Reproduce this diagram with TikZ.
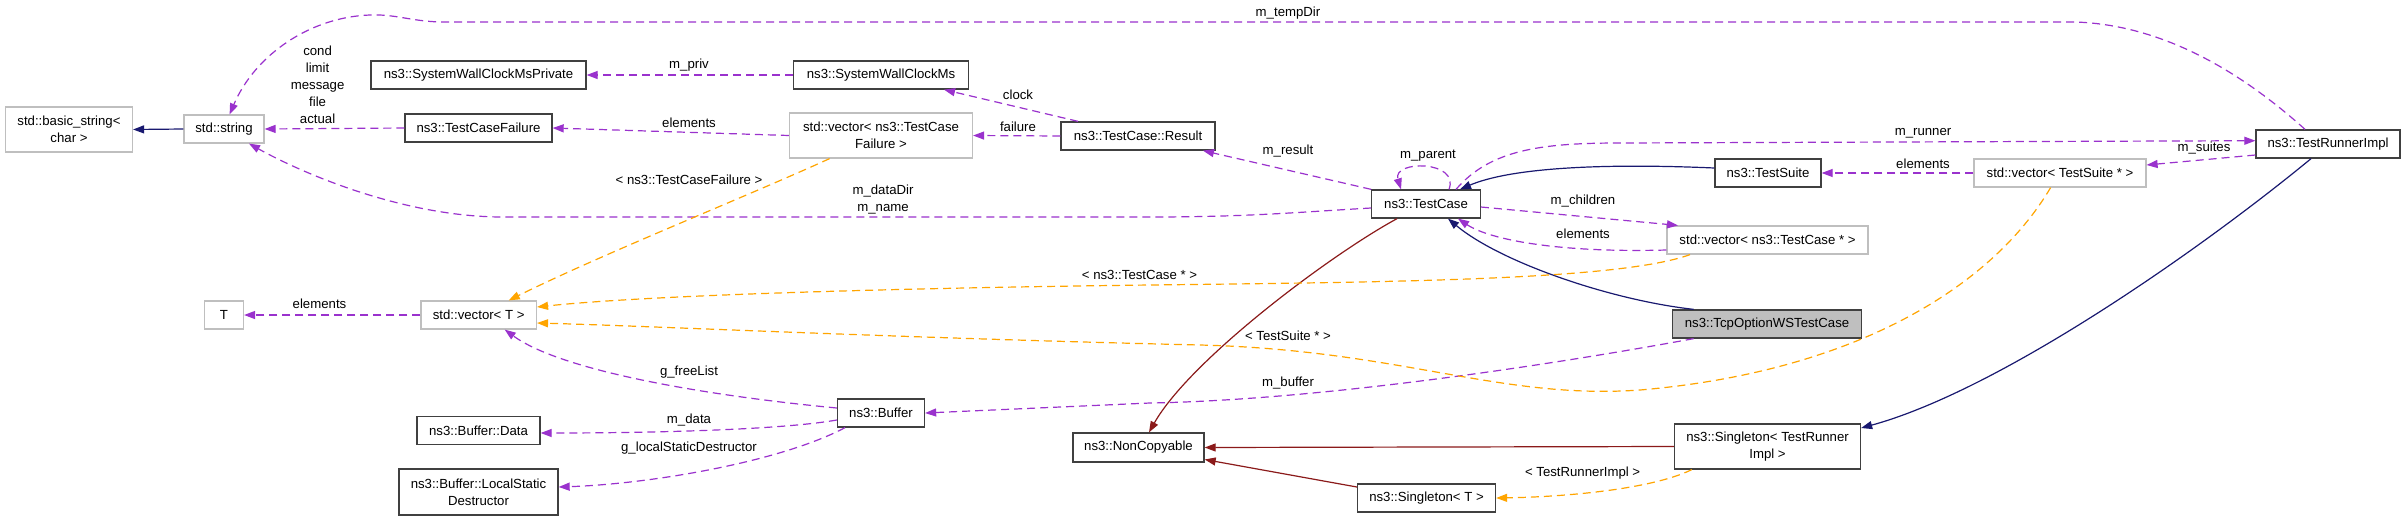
\documentclass[tikz,border=0pt]{standalone}
\usepackage{fontspec}
\setmainfont{Liberation Sans}
\usetikzlibrary{arrows.meta}
\definecolor{edgepurple}{HTML}{9A32CD}
\definecolor{edgeorange}{HTML}{FFA500}
\definecolor{edgenavy}{HTML}{191970}
\definecolor{edgered}{HTML}{8B1A1A}
\definecolor{boxgray}{HTML}{BFBFBF}
\definecolor{boxline}{HTML}{404040}
\tikzset{
  txt/.style={font=\fontsize{13.2}{17}\selectfont},
  cls/.style={txt, draw=boxline, line width=1.3pt, inner sep=0pt, align=center},
  ext/.style={cls, draw=boxgray, line width=1.2pt},
  sz/.style 2 args={minimum width=#1, minimum height=#2},
  lbl/.style={txt, inner sep=0pt, align=center},
  tipstyle/.style={-{Triangle[length=11pt,width=8pt]}},
  usage/.style={draw=edgepurple, line width=1.2pt, dash pattern=on 8pt off 5pt, tipstyle},
  tmpl/.style={draw=edgeorange, line width=1.2pt, dash pattern=on 8pt off 5pt, tipstyle},
  inh/.style={draw=edgenavy, line width=1.2pt, tipstyle},
  realize/.style={draw=edgered, line width=1.2pt, tipstyle}
}
\begin{document}
\begin{tikzpicture}[x=1pt,y=-1pt]
\fill[white] (0,0) rectangle (2405,520);
\useasboundingbox (0,0) rectangle (2405,520);

% nodes
\node[ext, sz={127}{45}] (bstr) at (69,129.5) {std::basic\_string<\\char >};
\node[ext, sz={80}{28}] (str) at (224,129) {std::string};
\node[cls, sz={215}{28}] (swcmp) at (478.5,75) {ns3::SystemWallClockMsPrivate};
\node[cls, sz={147}{28}] (tcf) at (478.5,128) {ns3::TestCaseFailure};
\node[cls, sz={175.5}{28}] (swcm) at (881,75) {ns3::SystemWallClockMs};
\node[ext, sz={183}{45}] (vtcf) at (881,135.5) {std::vector< ns3::TestCase\\Failure >};
\node[cls, sz={154}{28}] (res) at (1138,136) {ns3::TestCase::Result};
\node[cls, sz={108.5}{28}] (tc) at (1426,204) {ns3::TestCase};
\node[cls, sz={106}{28}] (ts) at (1768,173) {ns3::TestSuite};
\node[ext, sz={172}{28}] (vts) at (2060,173) {std::vector< TestSuite * >};
\node[cls, sz={144}{28}] (tri) at (2328,144) {ns3::TestRunnerImpl};
\node[ext, sz={201}{28}] (vtc) at (1767.5,240) {std::vector< ns3::TestCase * >};
\node[ext, sz={39}{28}] (T) at (224,315) {T};
\node[ext, sz={115.5}{28}] (vt) at (478.7,315) {std::vector< T >};
\node[cls, sz={123}{28}] (bdata) at (478.5,430.5) {ns3::Buffer::Data};
\node[cls, sz={159}{46}] (blsd) at (478.5,492) {ns3::Buffer::LocalStatic\\Destructor};
\node[cls, sz={87}{28}] (buf) at (881,413) {ns3::Buffer};
\node[cls, sz={131}{29}] (nc) at (1138.5,447.5) {ns3::NonCopyable};
\node[cls, fill=boxgray, sz={189.5}{28}] (tcp) at (1767,324) {ns3::TcpOptionWSTestCase};
\node[cls, sz={186}{45}] (stri) at (1767.5,446.5) {ns3::Singleton< TestRunner\\Impl >};
\node[cls, sz={138}{28}] (st) at (1426.5,498) {ns3::Singleton< T >};

% inheritance (navy)
\draw[inh] (str.west) -- (bstr.east);
\draw[inh] ([yshift=5]ts.west) .. controls (1600,163) and (1510,168) .. ([xshift=34]tc.north);
\draw[inh] ([xshift=-73.4]tcp.north) .. controls (1610,300) and (1500,262) .. ([xshift=22]tc.south);
\draw[inh] ([xshift=-17]tri.south) .. controls (2200,250) and (2000,390) .. ([yshift=18.5]stri.east);

% inheritance (dark red)
\draw[realize] ([xshift=-29]tc.south) .. controls (1330,255) and (1190,360) .. ([xshift=10.5]nc.north);
\draw[realize] (stri.west) -- (nc.east);
\draw[realize] ([yshift=11]st.west) -- ([yshift=-12]nc.east);

% usage (purple)
\draw[usage] (tcf.west) -- (str.east);
\node[lbl] (lcond) at (317.6,85) {cond\\limit\\message\\file\\actual};
\draw[usage] (swcm.west) -- (swcmp.east);
\node[lbl] (lpriv) at (689,65) {m\_priv};
\draw[usage] (vtcf.west) -- (tcf.east);
\node[lbl] (lel1) at (689,123) {elements};
\draw[usage] ([xshift=-60]res.north) -- ([xshift=63]swcm.south);
\node[lbl] (lclock) at (1018,95) {clock};
\draw[usage] (res.west) -- (vtcf.east);
\node[lbl] (lfail) at (1018,127) {failure};
\draw[usage] (tc.north west) -- ([xshift=65]res.south);
\node[lbl] (lres) at (1288,151) {m\_result};
\draw[usage] ([xshift=23]tc.north) .. controls (1460,160) and (1392,160) .. ([xshift=-25]tc.north);
\node[lbl] (lpar) at (1428,156) {m\_parent};
\draw[usage] ([yshift=-3]tc.east) -- ([xshift=-89.5]vtc.north);
\node[lbl] (lchild) at (1583,201) {m\_children};
\draw[usage] ([yshift=-10]vtc.west) .. controls (1560,253) and (1490,240) .. ([xshift=32]tc.south);
\node[lbl] (lel2) at (1583,234) {elements};
\draw[usage] ([xshift=30]tc.north) .. controls (1490,150) and (1540,143) .. (1620,143) -- ([yshift=3.3]tri.west);
\node[lbl] (lrun) at (1923,133) {m\_runner};
\draw[usage] ([yshift=-11]tri.west) -- ([yshift=8]vts.east);
\node[lbl] (lsuit) at (2204,148) {m\_suites};
\draw[usage] (vts.west) -- (ts.east);
\node[lbl] (lel3) at (1923,164) {elements};
\draw[usage] ([xshift=-23]tri.north) .. controls (2250,80) and (2170,25) .. (2075,22) -- (440,22) .. controls (410,21) and (395,14) .. (370,15) .. controls (310,17) and (255,55) .. ([xshift=5.6]str.north);
\node[lbl] (ltemp) at (1288,13) {m\_tempDir};
\draw[usage] ([yshift=-4]tc.west) .. controls (1300,212) and (1250,217) .. (1150,217) -- (500,217) .. controls (400,216) and (300,172) .. ([xshift=25]str.south);
\node[lbl] (ldata) at (883,199.5) {m\_dataDir\\m\_name};
\draw[usage] (vt.west) -- (T.east);
\node[lbl] (lel4) at (319.5,304) {elements};
\draw[usage] ([yshift=5]buf.west) .. controls (700,395) and (560,370) .. ([xshift=26]vt.south);
\node[lbl] (lfree) at (689,372) {g\_freeList};
\draw[usage] ([yshift=-7]buf.west) .. controls (780,430) and (650,433) .. ([yshift=-2.5]bdata.east);
\node[lbl] (lmdata) at (689,420) {m\_data};
\draw[usage] ([xshift=-36]buf.south) .. controls (780,462) and (650,484) .. ([yshift=5]blsd.east);
\node[lbl] (llsd) at (689,448) {g\_localStaticDestructor};
\draw[usage] ([xshift=-73.4]tcp.south) .. controls (1550,365) and (1320,400) .. (1150,403) -- (buf.east);
\node[lbl] (lbuf) at (1288,383) {m\_buffer};

% template instances (orange)
\draw[tmpl] ([xshift=-51.4]vtcf.south) .. controls (750,195) and (600,255) .. ([xshift=30]vt.north);
\node[lbl] (ltcf) at (689,180) {< ns3::TestCaseFailure >};
\draw[tmpl] ([xshift=-77.5]vtc.south) .. controls (1620,280) and (1400,282) .. (1150,285) .. controls (900,288) and (650,295) .. ([yshift=8]vt.east);
\node[lbl] (ltc) at (1139.5,275) {< ns3::TestCase * >};
\draw[tmpl] ([xshift=-9.4]vts.south) .. controls (1990,290) and (1850,372) .. (1640,390) .. controls (1500,400) and (1400,350) .. (1200,345) .. controls (900,338) and (650,326) .. ([yshift=-8]vt.east);
\node[lbl] (lts) at (1288,336) {< TestSuite * >};
\draw[tmpl] ([xshift=-75.8]stri.south) .. controls (1650,490) and (1560,497) .. (st.east);
\node[lbl] (ltri) at (1582.6,473) {< TestRunnerImpl >};
\end{tikzpicture}
\end{document}
